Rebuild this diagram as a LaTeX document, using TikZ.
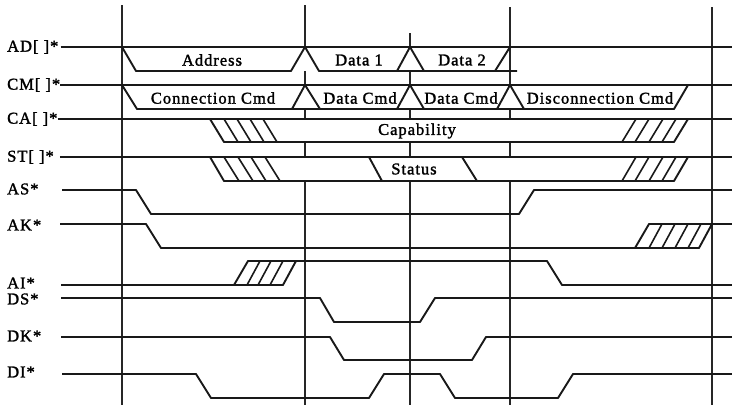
\documentclass[tikz,border=0pt]{standalone}
\usepackage{fontspec}
\setmainfont[LetterSpace=6,FakeBold=1.6]{Liberation Serif}
\tikzset{
  gridline/.style={line width=1.2pt, black!85},
  signal/.style={line width=1.9pt, black!90, line join=round},
  hatch/.style={line width=1.6pt, black!90},
  signame/.style={anchor=west, inner sep=0pt, font=\fontsize{16.5}{16.5}\selectfont},
  phase/.style={inner sep=0pt, font=\fontsize{16.5}{16.5}\selectfont}
}
\begin{document}
\begin{tikzpicture}[x=1pt, y=-1pt]
  \useasboundingbox (0,0) rectangle (732,405);
  \draw[gridline] (122,5) -- (122,405);
  \draw[gridline] (712,7) -- (712,405);
  \draw[gridline] (305,5) -- (305,47) (305,71) -- (305,85) (305,109) -- (305,119) (305,142) -- (305,157) (305,181) -- (305,405);
  \draw[gridline] (410,33) -- (410,47) (410,71) -- (410,85) (410,109) -- (410,119) (410,142) -- (410,157) (410,181) -- (410,405);
  \draw[gridline] (510,7) -- (510,85) (510,109) -- (510,119) (510,142) -- (510,157) (510,181) -- (510,405);

  \node[signame] (ad) at (7,47) {AD[ ]*};
  \node[signame] (cm) at (7,85) {CM[ ]*};
  \node[signame] (ca) at (7,119) {CA[ ]*};
  \node[signame] (st) at (7,157) {ST[ ]*};
  \node[signame] (as) at (7,189) {AS*};
  \node[signame] (ak) at (7,225) {AK*};
  \node[signame] (ai) at (7,283) {AI*};
  \node[signame] (ds) at (7,299) {DS*};
  \node[signame] (dk) at (7,336) {DK*};
  \node[signame] (di) at (7,372) {DI*};

  % address and command buses
  \draw[signal] (ad.east) ++(2,0) -- (732,47);
  \draw[signal] (122,47) -- (136,71) -- (291,71) -- (305,47) -- (319,71) -- (517,71);
  \draw[signal] (397,71) -- (410,47) -- (424,71);
  \draw[signal] (495,71) -- (510,47);
  \draw[signal] (cm.east) -- (732,85);
  \draw[signal] (122,85) -- (137,109) -- (674,109) -- (688,85);
  \draw[signal] (292,109) -- (305,85) -- (320,109);
  \draw[signal] (397,109) -- (410,85) -- (424,109);
  \draw[signal] (497,109) -- (510,85) -- (524,109);

  \node[phase] (address) at (212,60) {Address};
  \node[phase] (data1) at (359,60) {Data 1};
  \node[phase] (data2) at (462,60) {Data 2};
  \node[phase] (conncmd) at (213,98) {Connection Cmd};
  \node[phase] (datacmd1) at (360,98) {Data Cmd};
  \node[phase] (datacmd2) at (461,98) {Data Cmd};
  \node[phase] (disccmd) at (600,98) {Disconnection Cmd};
  \node[phase] (capability) at (417,131) {Capability};
  \node[phase] (status) at (414,169) {Status};

  % capability and status
  \draw[signal] (ca.east) -- (732,119);
  \draw[signal] (210,119) -- (224,142) -- (674,142) -- (688,119);
  \foreach \x in {224,237,250,263}
    \draw[hatch] (\x,119) -- ({\x+14},142);
  \foreach \x in {622,635,649,662}
    \draw[hatch] (\x,142) -- ({\x+14},119);
  \draw[signal] (st.east) ++(6,0) -- (732,157);
  \draw[signal] (210,157) -- (224,181) -- (674,181) -- (688,157);
  \foreach \x in {224,238,251,265}
    \draw[hatch] (\x,157) -- ({\x+15},181);
  \foreach \x in {622,635,649,662}
    \draw[hatch] (\x,181) -- ({\x+14},157);
  \draw[signal] (369,157) -- (382,181);
  \draw[signal] (462,157) -- (477,181);

  % handshake lines
  \draw[signal] (62,190) -- (136,190) -- (151,214) -- (519,214) -- (534,190) -- (732,190);
  \draw[signal] (60,224) -- (146,224) -- (161,248) -- (699,248) -- (712,224) -- (732,224);
  \draw[signal] (635,248) -- (649,224) -- (712,224);
  \foreach \x in {649,662,675,688}
    \draw[hatch] (\x,248) -- ({\x+13},224);
  \draw[signal] (61,285) -- (283,285) -- (296,261) -- (547,261) -- (562,285) -- (732,285);
  \draw[signal] (234,285) -- (248,261) -- (296,261);
  \foreach \x in {247,258,270}
    \draw[hatch] (\x,285) -- ({\x+13},261);
  \draw[signal] (61,298) -- (320,298) -- (334,322) -- (420,322) -- (435,298) -- (732,298);
  \draw[signal] (61,337) -- (330,337) -- (344,360) -- (472,360) -- (486,337) -- (732,337);
  \draw[signal] (62,374) -- (196,374) -- (211,398) -- (369,398) -- (384,374) -- (440,374)
    -- (455,398) -- (558,398) -- (573,374) -- (732,374);
\end{tikzpicture}
\end{document}
